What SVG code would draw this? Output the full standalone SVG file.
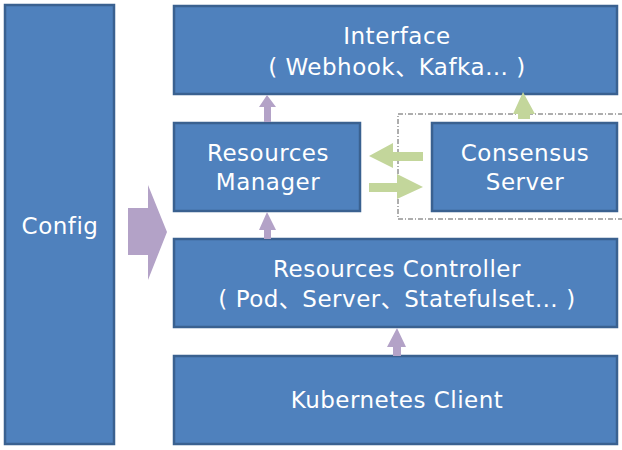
<svg xmlns="http://www.w3.org/2000/svg" width="622" height="450" viewBox="0 0 622 450">
<style>
.box{fill:#4F81BD;stroke:#3A6190;stroke-width:2.5}
.t{fill:#fff;font-family:"DejaVu Sans","Noto Sans CJK SC",sans-serif;font-size:23px;letter-spacing:0.5px;text-anchor:middle}
.p{fill:#B3A2C7}
.g{fill:#C3D69B}
</style>
<rect width="622" height="450" fill="#fff"/>
<g id="config"><rect class="box" x="5" y="5" width="109" height="439"/><text class="t" x="60" y="234">Config</text></g>
<g id="interface"><rect class="box" x="174" y="6" width="443" height="88"/><text class="t" x="397" y="44">Interface</text><text class="t" x="397" y="75">( Webhook、Kafka… )</text></g>
<g id="manager"><rect class="box" x="174" y="123" width="186" height="88"/><text class="t" x="268" y="161">Resources</text><text class="t" x="268" y="190">Manager</text></g>
<g id="consensus-group"><rect x="398" y="114" width="230" height="105" fill="none" stroke="#333" stroke-width="0.8" stroke-dasharray="5,2,1,2"/></g>
<g id="consensus"><rect class="box" x="432" y="123" width="185" height="88"/><text class="t" x="525" y="161">Consensus</text><text class="t" x="525" y="190">Server</text></g>
<g id="controller"><rect class="box" x="174" y="239" width="443" height="88"/><text class="t" x="397" y="277">Resources Controller</text><text class="t" x="397" y="307">( Pod、Server、Statefulset… )</text></g>
<g id="client"><rect class="box" x="174" y="356" width="443" height="88"/><text class="t" x="397" y="408">Kubernetes Client</text></g>
<g id="connectors">
<polygon class="p" points="128,208 148,208 148,185 167,232 148,280 148,255 128,255"/>
<polygon class="p" points="264,122 264,107 259,107 267,95 276,107 271,107 271,122"/>
<polygon class="p" points="264,239 264,230 259,230 267,212 276,230 271,230 271,239"/>
<polygon class="p" points="393,356 393,347 387,347 397,328 406,347 401,347 401,356"/>
<polygon class="g" points="518,119 518,114 513,114 523,92 535,114 530,114 530,119"/>
<polygon class="g" points="423,152 393,152 393,143 369,156 393,168 393,161 423,161"/>
<polygon class="g" points="369,183 397,183 397,174 423,187 397,199 397,192 369,192"/>
</g>
</svg>
